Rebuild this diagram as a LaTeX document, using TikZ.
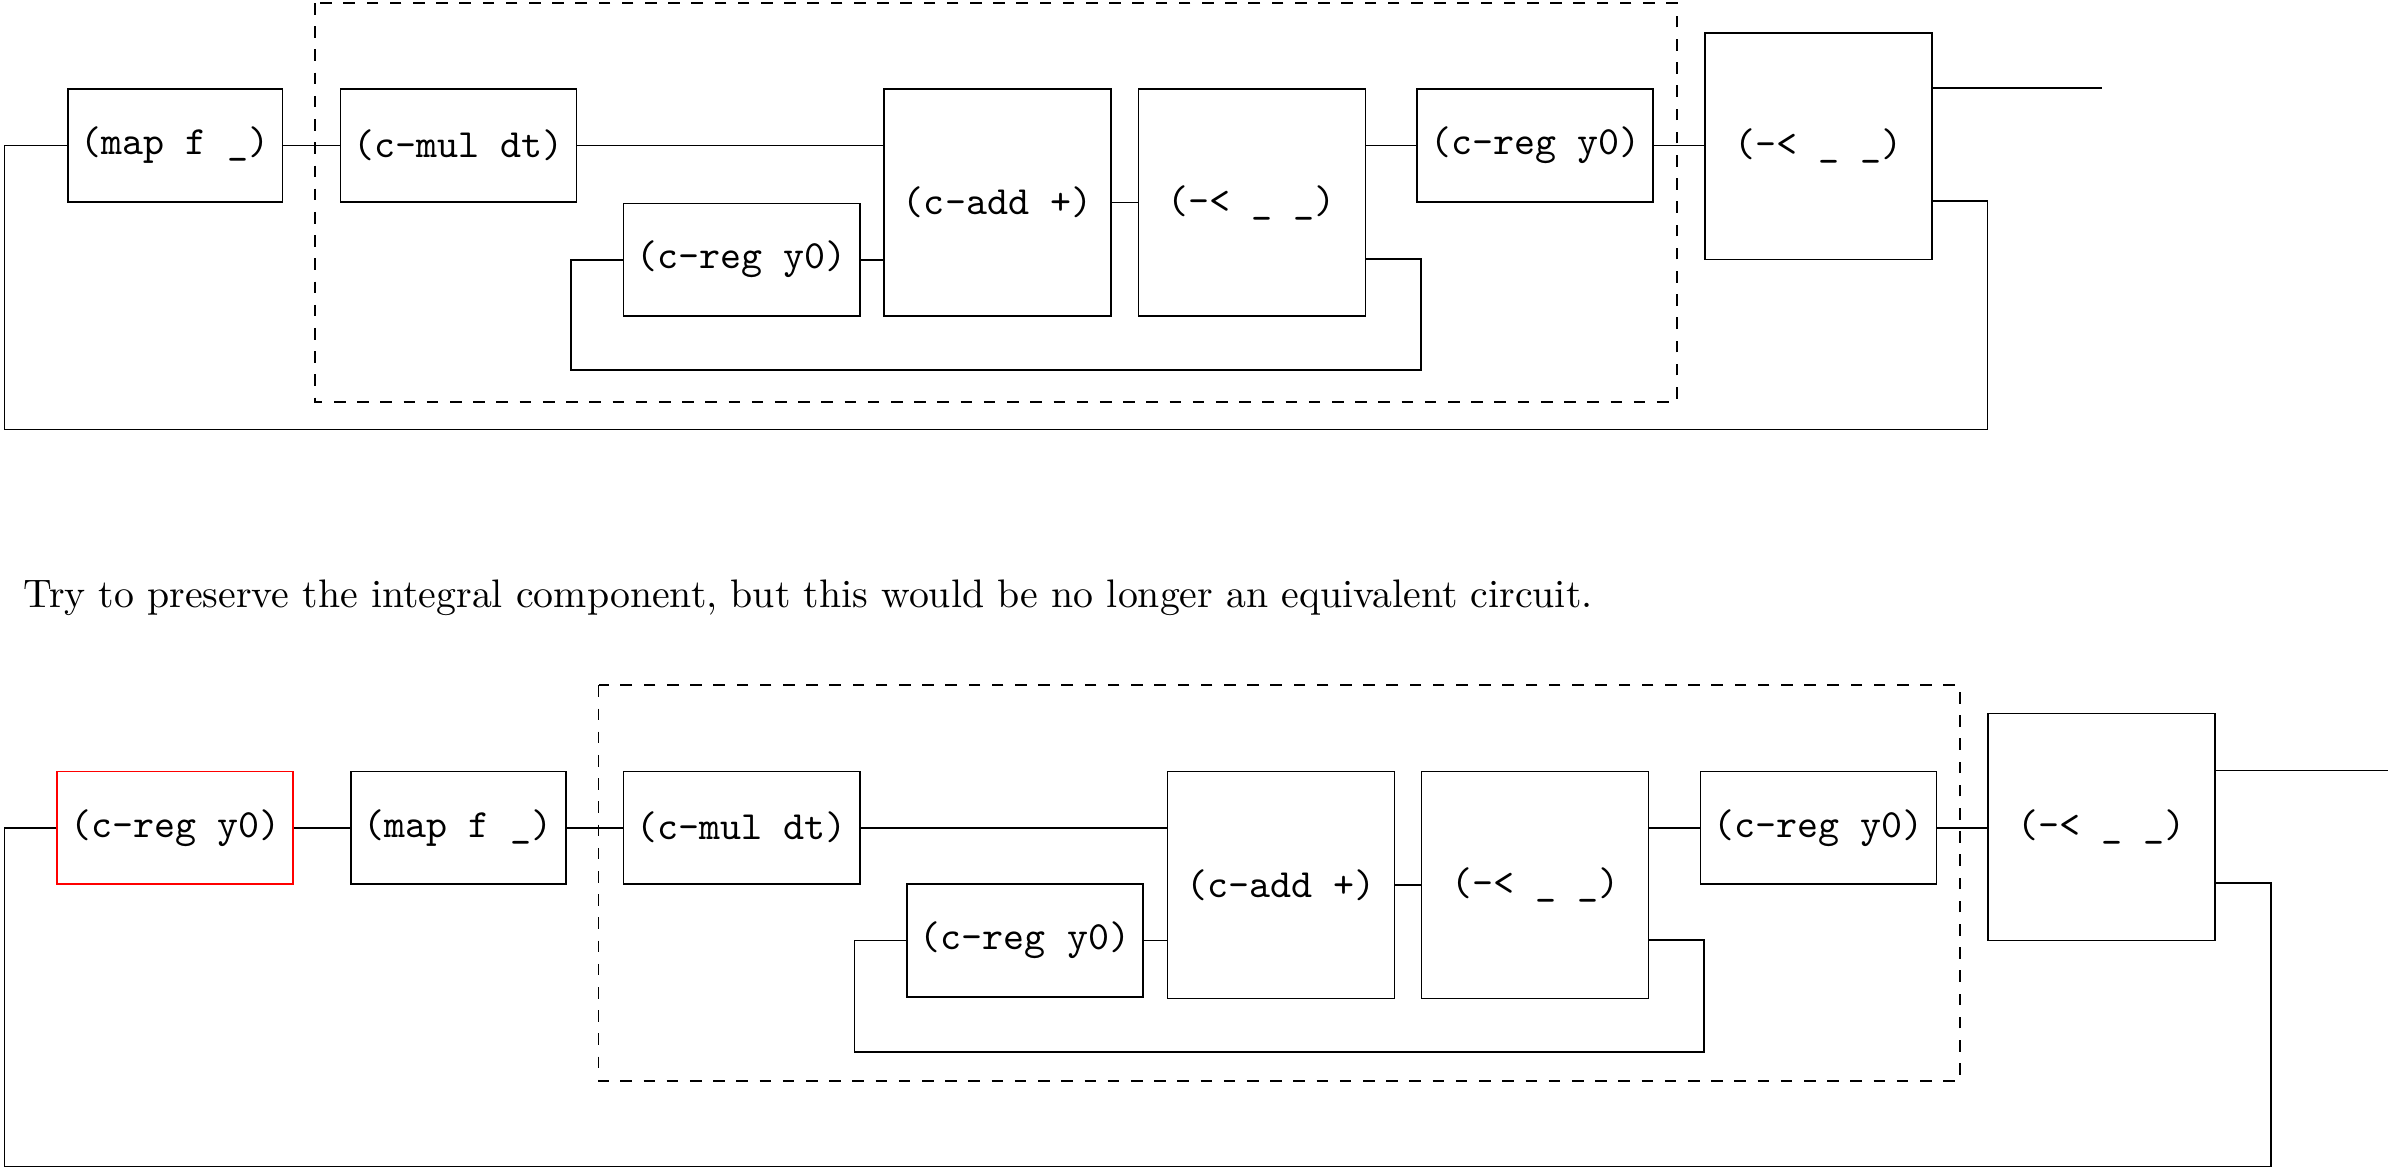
\documentclass[tikz,border=0pt]{standalone}
\newlength\U
\setlength\U{0.3937pt}
\begin{document}
\begin{tikzpicture}[x=0.3937pt,y=-0.3937pt,
  blk/.style={draw,rectangle,inner sep=0pt,font=\ttfamily\fontsize{10.35}{12}\selectfont,anchor=north west},
  small/.style={blk,minimum width=155\U,minimum height=74\U},
  mapb/.style={blk,minimum width=141\U,minimum height=74\U},
  big/.style={blk,minimum width=149\U,minimum height=149\U},
  wire/.style={draw,line width=0.45pt},
  grp/.style={draw,dashed,line width=0.45pt}]
\useasboundingbox (0,0) rectangle (1568,770);

% ---------- top circuit ----------
\node[mapb]  (tmap)  at (44,58)   {(map f \_)};
\node[small] (tmul)  at (223,58)  {(c-mul dt)};
\node[small] (treg1) at (409,133) {(c-reg y0)};
\node[big]   (tadd)  at (580,58)  {(c-add +)};
\node[big]   (tspl1) at (747,58)  {(-< \_ \_)};
\node[small] (treg2) at (930,58)  {(c-reg y0)};
\node[big]   (tspl2) at (1119,21) {(-< \_ \_)};
\draw[grp] (207,2) rectangle (1101,264);

\coordinate (tout) at (1380,58);
\coordinate (tfb1) at (1305,132);
\coordinate (tfb2) at (1305,282);
\coordinate (tfb3) at (3,282);
\coordinate (tib1) at (933,170);
\coordinate (tib2) at (933,243);
\coordinate (tib3) at (375,243);

\draw[wire] (tmap.east) -- (tmul.west);
\draw[wire] (tmul.east) -- (tmul.east -| tadd.west);
\draw[wire] (treg1.east) -- (treg1.east -| tadd.west);
\draw[wire] (tadd.east) -- (tspl1.west);
\draw[wire] (tspl1.north east |- treg2.west) -- (treg2.west);
\draw[wire] (treg2.east) -- (treg2.east -| tspl2.west);
\draw[wire] (tspl2.north east |- tout) -- (tout);
\draw[wire] (tspl2.north east |- tfb1) -- (tfb1) -- (tfb2) -- (tfb3) -- (tfb3 |- tmap.west) -- (tmap.west);
\draw[wire] (tspl1.north east |- tib1) -- (tib1) -- (tib2) -- (tib3) -- (tib3 |- treg1.west) -- (treg1.west);

% ---------- text ----------
\node[anchor=base west,inner sep=0pt,font=\fontsize{10.29}{12.5}\selectfont] (txt) at (15,399)
  {Try to preserve the integral component, but this would be no longer an equivalent circuit.};

% ---------- bottom circuit ----------
\node[small,draw=red] (breg0) at (37,506) {(c-reg y0)};
\node[mapb]  (bmap)  at (230,506)  {(map f \_)};
\node[small] (bmul)  at (409,506)  {(c-mul dt)};
\node[small] (breg1) at (595,580)  {(c-reg y0)};
\node[big]   (badd)  at (766,506)  {(c-add +)};
\node[big]   (bspl1) at (933,506)  {(-< \_ \_)};
\node[small] (breg2) at (1116,506) {(c-reg y0)};
\node[big]   (bspl2) at (1305,468) {(-< \_ \_)};
\draw[grp] (393,450) rectangle (1287,710);

\coordinate (bout) at (1568,506);
\coordinate (bfb1) at (1491,580);
\coordinate (bfb2) at (1491,766);
\coordinate (bfb3) at (3,766);
\coordinate (bib1) at (1119,617);
\coordinate (bib2) at (1119,691);
\coordinate (bib3) at (561,691);

\draw[wire] (breg0.east) -- (bmap.west);
\draw[wire] (bmap.east) -- (bmul.west);
\draw[wire] (bmul.east) -- (bmul.east -| badd.west);
\draw[wire] (breg1.east) -- (breg1.east -| badd.west);
\draw[wire] (badd.east) -- (bspl1.west);
\draw[wire] (bspl1.north east |- breg2.west) -- (breg2.west);
\draw[wire] (breg2.east) -- (breg2.east -| bspl2.west);
\draw[wire] (bspl2.north east |- bout) -- (bout);
\draw[wire] (bspl2.north east |- bfb1) -- (bfb1) -- (bfb2) -- (bfb3) -- (bfb3 |- breg0.west) -- (breg0.west);
\draw[wire] (bspl1.north east |- bib1) -- (bib1) -- (bib2) -- (bib3) -- (bib3 |- breg1.west) -- (breg1.west);
\end{tikzpicture}
\end{document}
